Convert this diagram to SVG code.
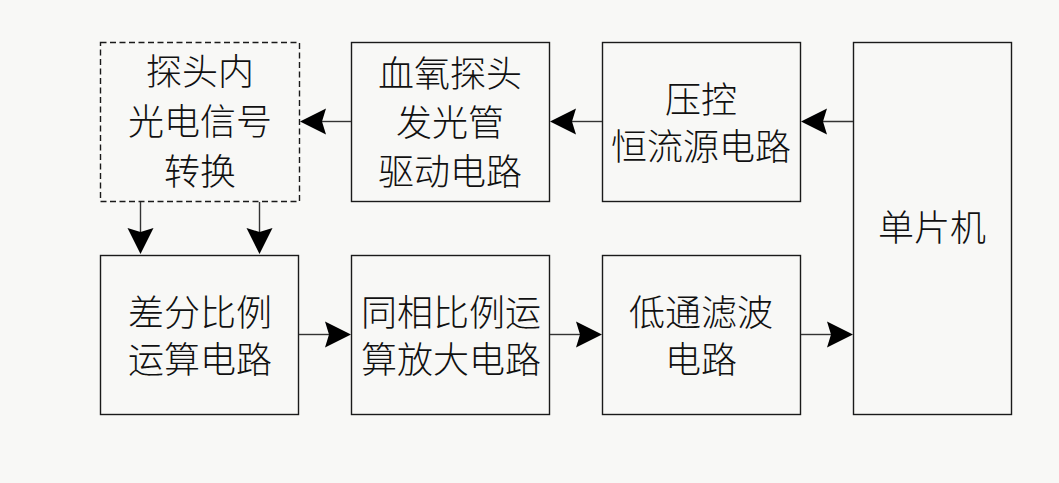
<svg xmlns="http://www.w3.org/2000/svg" width="1059" height="483" viewBox="0 0 1059 483">
<style>
.box{fill:none;stroke:#1a1a1a;stroke-width:1.4}
.dash{stroke-dasharray:6 3.5}
.t{font-family:"Noto Sans CJK SC","Noto Sans CJK JP",sans-serif;font-size:36px;font-weight:300;fill:#111;text-anchor:middle}
.ln{stroke:#333;stroke-width:1.4;fill:none}
.ah{fill:#000}
</style>
<defs>
<path id="arrL" class="ah" d="M0,0 L26,-13 L22,0 L26,13 Z"/>
</defs>
<rect width="1059" height="483" fill="#f8f8f6"/>
<g id="n1">
<rect class="box dash" x="100.5" y="42.5" width="199" height="159"/>
<text class="t" x="200" y="85">探头内</text>
<text class="t" x="200" y="135">光电信号</text>
<text class="t" x="200" y="185">转换</text>
</g>
<g id="n2">
<rect class="box" x="351.5" y="42.5" width="198" height="159"/>
<text class="t" x="450" y="87">血氧探头</text>
<text class="t" x="450" y="136">发光管</text>
<text class="t" x="450" y="185">驱动电路</text>
</g>
<g id="n3">
<rect class="box" x="602.5" y="42.5" width="198" height="159"/>
<text class="t" x="701" y="113">压控</text>
<text class="t" x="701" y="160">恒流源电路</text>
</g>
<g id="n4">
<rect class="box" x="853.5" y="42.5" width="158" height="372"/>
<text class="t" x="932" y="241">单片机</text>
</g>
<g id="n5">
<rect class="box" x="100.5" y="255.5" width="198" height="159"/>
<text class="t" x="200" y="326">差分比例</text>
<text class="t" x="200" y="373">运算电路</text>
</g>
<g id="n6">
<rect class="box" x="351.5" y="255.5" width="198" height="159"/>
<text class="t" x="451" y="326">同相比例运</text>
<text class="t" x="451" y="373">算放大电路</text>
</g>
<g id="n7">
<rect class="box" x="602.5" y="255.5" width="198" height="159"/>
<text class="t" x="701" y="326">低通滤波</text>
<text class="t" x="701" y="373">电路</text>
</g>
<g id="connectors">
<line class="ln" x1="853" y1="121.5" x2="820" y2="121.5"/>
<use href="#arrL" transform="translate(801,121.5)"/>
<line class="ln" x1="602" y1="121.5" x2="570" y2="121.5"/>
<use href="#arrL" transform="translate(550,121.5)"/>
<line class="ln" x1="351" y1="121.5" x2="320" y2="121.5"/>
<use href="#arrL" transform="translate(300,121.5)"/>
<line class="ln" x1="140.5" y1="202" x2="140.5" y2="232"/>
<use href="#arrL" transform="translate(140.5,254) rotate(-90)"/>
<line class="ln" x1="259.5" y1="202" x2="259.5" y2="232"/>
<use href="#arrL" transform="translate(259.5,254) rotate(-90)"/>
<line class="ln" x1="299" y1="334.5" x2="330" y2="334.5"/>
<use href="#arrL" transform="translate(351,334.5) rotate(180)"/>
<line class="ln" x1="550" y1="334.5" x2="582" y2="334.5"/>
<use href="#arrL" transform="translate(602,334.5) rotate(180)"/>
<line class="ln" x1="801" y1="334.5" x2="833" y2="334.5"/>
<use href="#arrL" transform="translate(853,334.5) rotate(180)"/>
</g>
</svg>
